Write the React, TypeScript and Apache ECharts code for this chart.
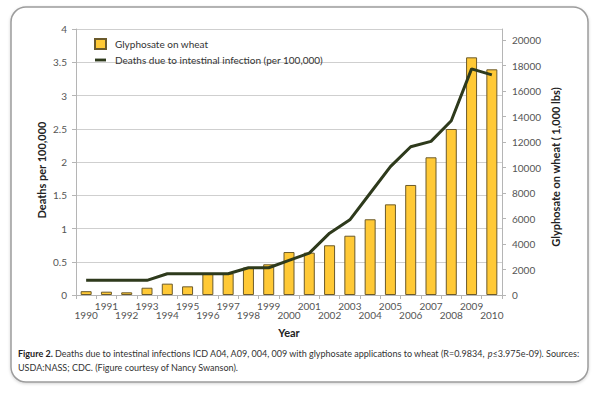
import React, { useEffect, useRef } from "react";
import * as echarts from "echarts";

const years = [
  "1990", "1991", "1992", "1993", "1994", "1995", "1996", "1997", "1998", "1999", "2000",
  "2001", "2002", "2003", "2004", "2005", "2006", "2007", "2008", "2009", "2010",
];
const glyphosateOnWheat = [
  300, 260, 210, 570, 890, 680, 1690, 1690, 2160, 2410, 3370,
  3320, 3900, 4650, 5940, 7110, 8630, 10800, 13020, 18640, 17700,
];
const deathsPer100k = [
  0.22, 0.22, 0.22, 0.22, 0.32, 0.32, 0.32, 0.32, 0.41, 0.41, 0.52,
  0.63, 0.93, 1.13, 1.53, 1.93, 2.23, 2.31, 2.62, 3.4, 3.31,
];
const leftTicks = { min: 0, max: 4, interval: 0.5 };
const rightTicks = { min: 0, max: 20863, interval: 2000 };

const FONT = "Lato, 'Liberation Sans', sans-serif";

export default function App() {
  const ref = useRef<HTMLDivElement>(null);
  useEffect(() => {
    if (!ref.current) return;
    const chart = echarts.init(ref.current, undefined, { renderer: "svg" });
    chart.setOption({
      animation: false,
      backgroundColor: "#ffffff",
      textStyle: { fontFamily: FONT },
      grid: { left: 76, right: 98, top: 29, bottom: 100, containLabel: false },
      legend: {
        orient: "vertical",
        left: 89,
        top: 33,
        itemWidth: 11,
        itemHeight: 10,
        itemGap: 5,
        symbolKeepAspect: true,
        textStyle: { fontFamily: FONT, fontSize: 10, color: "#333", padding: [0, 0, 0, 4] },
        data: [
          { name: "Glyphosate on wheat", icon: "rect" },
          {
            name: "Deaths due to intestinal infection (per 100,000)",
            icon: "path://M0,0 L10,0 L10,2.6 L0,2.6 Z",
          },
        ],
      },
      xAxis: {
        type: "category",
        data: years,
        boundaryGap: true,
        name: "Year",
        nameLocation: "middle",
        nameGap: 32,
        nameTextStyle: { fontFamily: FONT, fontSize: 11, fontWeight: "bold", color: "#222" },
        axisLine: { show: true, lineStyle: { color: "#b5b5b5", width: 1 } },
        axisTick: { show: true, length: 4, lineStyle: { color: "#b5b5b5" } },
        axisLabel: {
          interval: 0,
          margin: 6,
          fontSize: 10,
          lineHeight: 9,
          color: "#555",
          fontFamily: FONT,
          formatter: (v: string, i: number) => (i % 2 === 0 ? "\n" + v : v),
        },
      },
      yAxis: [
        {
          type: "value",
          min: leftTicks.min,
          max: leftTicks.max,
          interval: leftTicks.interval,
          position: "left",
          axisLine: { show: true, lineStyle: { color: "#b5b5b5", width: 1 } },
          axisTick: { show: true, length: 4, lineStyle: { color: "#b5b5b5" } },
          axisLabel: { fontSize: 10, color: "#555", margin: 9, fontFamily: FONT },
          splitLine: { show: true, lineStyle: { color: "#cfcfcf", width: 1 } },
        },
        {
          type: "value",
          min: rightTicks.min,
          max: rightTicks.max,
          interval: rightTicks.interval,
          position: "right",
          axisLine: { show: true, lineStyle: { color: "#b5b5b5", width: 1 } },
          axisTick: { show: true, length: 4, lineStyle: { color: "#b5b5b5" } },
          axisLabel: {
            fontSize: 10,
            color: "#555",
            margin: 10,
            showMaxLabel: false,
            fontFamily: FONT,
            formatter: (v: number) => String(v),
          },
          splitLine: { show: false },
        },
      ],
      series: [
        {
          name: "Glyphosate on wheat",
          type: "bar",
          yAxisIndex: 1,
          data: glyphosateOnWheat,
          barWidth: 11,
          itemStyle: { color: "#FFC936", borderColor: "#6b5a2b", borderWidth: 1 },
          z: 2,
        },
        {
          name: "Deaths due to intestinal infection (per 100,000)",
          type: "line",
          yAxisIndex: 0,
          data: deathsPer100k,
          symbol: "none",
          lineStyle: { color: "#2e3a1c", width: 3 },
          itemStyle: { color: "#2e3a1c" },
          z: 3,
        },
      ],
      graphic: [
        {
          type: "rect",
          z: -10,
          silent: true,
          shape: { x: 11, y: 7, width: 577, height: 375, r: 15 },
          style: {
            fill: "#ffffff",
            stroke: "#9c9c9c",
            lineWidth: 1.5,
            shadowBlur: 3,
            shadowColor: "rgba(0,0,0,0.18)",
            shadowOffsetY: 1,
          },
        },
        {
          type: "text",
          x: 41,
          y: 170,
          rotation: Math.PI / 2,
          style: {
            text: "Deaths per 100,000",
            fontFamily: FONT,
            fontSize: 11,
            fontWeight: "bold",
            fill: "#222",
            align: "center",
            verticalAlign: "middle",
          },
        },
        {
          type: "text",
          x: 555,
          y: 167,
          rotation: Math.PI / 2,
          style: {
            text: "Glyphosate on wheat ( 1,000 lbs)",
            fontFamily: FONT,
            fontSize: 11,
            fontWeight: "bold",
            fill: "#222",
            align: "center",
            verticalAlign: "middle",
          },
        },
        {
          type: "text",
          x: 18,
          y: 353,
          style: {
            text:
              "{b|Figure 2.} Deaths due to intestinal infections ICD A04, A09, 004, 009 with glyphosate applications to wheat (R=0.9834, {i|p}≤3.975e-09). Sources:",
            fontFamily: FONT,
            fontSize: 9,
            fill: "#333",
            verticalAlign: "middle",
            rich: {
              b: { fontWeight: "bold", fontFamily: FONT, fontSize: 9, fill: "#222" },
              i: { fontStyle: "italic", fontFamily: FONT, fontSize: 9, fill: "#333" },
            },
          },
        },
        {
          type: "text",
          x: 18,
          y: 367,
          style: {
            text: "USDA:NASS; CDC. (Figure courtesy of Nancy Swanson).",
            fontFamily: FONT,
            fontSize: 9,
            fill: "#333",
            verticalAlign: "middle",
          },
        },
      ],
    });
    return () => chart.dispose();
  }, []);
  return (
    <div
      ref={ref}
      style={{ position: "fixed", left: 0, top: 0, width: 600, height: 395, background: "#fff" }}
    />
  );
}
